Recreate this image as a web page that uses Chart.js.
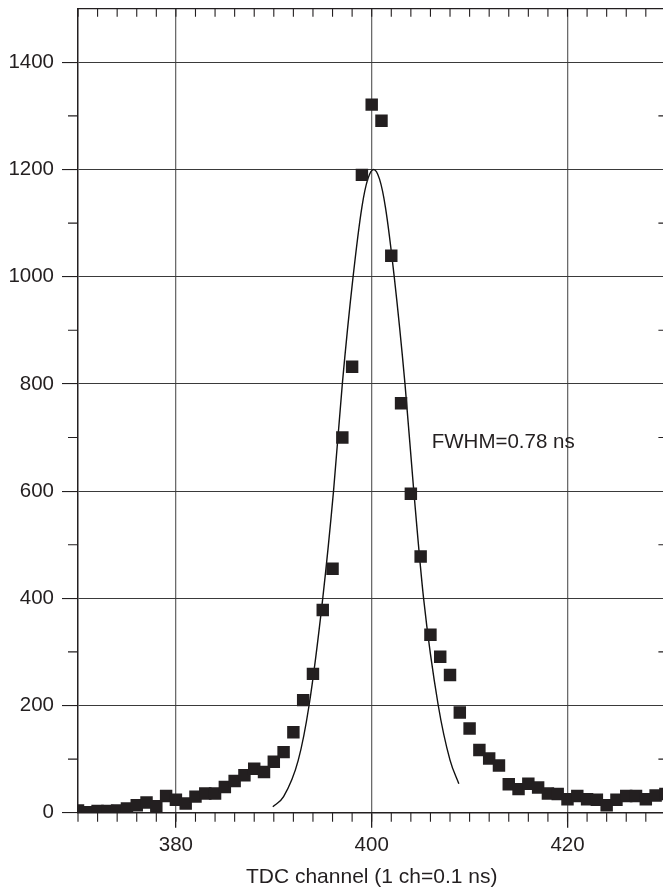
<!DOCTYPE html>
<html>
<head>
<meta charset="utf-8">
<script src="https://cdn.jsdelivr.net/npm/chart.js@4/dist/chart.umd.min.js"></script>
<style>
  html, body { margin: 0; padding: 0; background: #fff; overflow: hidden; }
  #wrap { width: 667px; height: 890px; }
</style>
</head>
<body>
<div id="wrap"><canvas id="c" width="667" height="890"></canvas></div>
<script>
// ---- data ----
const channels = [370,371,372,373,374,375,376,377,378,379,
                  380,381,382,383,384,385,386,387,388,389,
                  390,391,392,393,394,395,396,397,398,399,
                  400,401,402,403,404,405,406,407,408,409,
                  410,411,412,413,414,415,416,417,418,419,
                  420,421,422,423,424,425,426,427,428,429,430];
const counts   = [4,1,3,3,4,8,14,19,12,31,
                  24,17,30,36,36,48,59,70,82,76,
                  95,113,150,210,259,378,455,700,832,1190,
                  1321,1291,1039,764,595,478,332,291,257,187,
                  157,117,101,88,53,44,54,47,36,35,
                  25,31,25,24,14,24,31,31,25,32,35];
// fitted curve, points
const fitX = [389.9,391,392.5,393.6,395,396.1,397,398.1,399,399.6,400.2,400.8,401.4,402.3,403.4,404.3,405.3,406.8,408,408.9];
const fitY = [11,30,98,200,400,600,800,1000,1130,1182,1200,1182,1130,1000,800,600,400,200,98,54];
const xTicks = [380, 400, 420];
const yTicks = [0, 200, 400, 600, 800, 1000, 1200, 1400];
const xRange = [370, 430];
const yRange = [0, 1500];
const xTitle = 'TDC channel (1 ch=0.1 ns)';
const annotation = 'FWHM=0.78 ns';
const annotationAt = [406.13, 680];

const FONT = "'Liberation Sans', Arial, Helvetica, sans-serif";
const INK = '#231f20';

const framePlugin = {
  id: 'frame',
  afterDraw(chart) {
    const ctx = chart.ctx;
    const a = chart.chartArea;
    const xs = chart.scales.x, ys = chart.scales.y;
    ctx.save();
    ctx.strokeStyle = INK;
    ctx.lineWidth = 1.2;
    // top and right border
    ctx.beginPath();
    ctx.moveTo(a.left, a.top); ctx.lineTo(a.right, a.top);
    ctx.moveTo(a.right, a.top); ctx.lineTo(a.right, a.bottom);
    ctx.stroke();
    ctx.lineWidth = 1.1;
    ctx.beginPath();
    for (let v = xRange[0]; v <= xRange[1]; v += 2) {
      const px = xs.getPixelForValue(v);
      // top ticks (inward)
      ctx.moveTo(px, a.top); ctx.lineTo(px, a.top + 8);
      // bottom ticks (outward)
      ctx.moveTo(px, a.bottom); ctx.lineTo(px, a.bottom + 9);
    }
    for (let v = 100; v < yRange[1]; v += 200) {
      const py = ys.getPixelForValue(v);
      ctx.moveTo(a.left - 10, py); ctx.lineTo(a.left, py);
      ctx.moveTo(a.right - 7, py); ctx.lineTo(a.right, py);
    }
    ctx.stroke();
    // annotation
    ctx.fillStyle = INK;
    ctx.font = "20.5px " + FONT;
    ctx.textBaseline = 'alphabetic';
    ctx.textAlign = 'left';
    ctx.fillText(annotation, xs.getPixelForValue(annotationAt[0]), ys.getPixelForValue(annotationAt[1]));
    ctx.restore();
  }
};

new Chart(document.getElementById('c'), {
  type: 'scatter',
  data: {
    datasets: [
      {
        label: 'data',
        data: channels.map((c, i) => ({ x: c, y: counts[i] })),
        pointStyle: 'rect',
        pointRadius: 8.8,
        pointHoverRadius: 8.8,
        backgroundColor: INK,
        borderColor: INK,
        borderWidth: 0,
        showLine: false,
        clip: 0
      },
      {
        label: 'fit',
        data: fitX.map((x, i) => ({ x: x, y: fitY[i] })),
        showLine: true,
        pointRadius: 0,
        borderColor: '#111',
        borderWidth: 1.4,
        cubicInterpolationMode: 'monotone',
        fill: false,
        clip: 0
      }
    ]
  },
  options: {
    responsive: false,
    animation: false,
    devicePixelRatio: 1,
    layout: { autoPadding: false, padding: { top: 8.7, right: 1.6, left: 0, bottom: 0 } },
    plugins: { legend: { display: false }, tooltip: { enabled: false } },
    scales: {
      x: {
        type: 'linear',
        min: xRange[0], max: xRange[1],
        afterBuildTicks: (s) => { s.ticks = xTicks.map(v => ({ value: v })); },
        afterFit: (s) => { s.height = 77.3; s.paddingLeft = 0; s.paddingRight = 0; },
        grid: { color: '#6b6b6b', lineWidth: 1.3, tickLength: 15, tickColor: INK, drawTicks: true },
        border: { display: true, color: INK, width: 1.5 },
        ticks: { color: INK, font: { family: FONT, size: 20.5 }, padding: 5, maxRotation: 0, autoSkip: false,
                 callback: (v) => String(v) },
        title: { display: true, text: xTitle, color: INK, font: { family: FONT, size: 21 }, padding: { top: 0, bottom: 0 } }
      },
      y: {
        type: 'linear',
        min: yRange[0], max: yRange[1],
        afterBuildTicks: (s) => { s.ticks = yTicks.map(v => ({ value: v })); },
        afterFit: (s) => { s.width = 78; s.paddingTop = 0; s.paddingBottom = 0; },
        grid: { color: '#3a3a3a', lineWidth: 1.1, tickLength: 16, tickColor: INK },
        border: { display: true, color: INK, width: 1.5 },
        ticks: { color: INK, font: { family: FONT, size: 20.5 }, padding: 8, autoSkip: false,
                 callback: (v) => String(v) }
      }
    }
  },
  plugins: [framePlugin]
});
</script>
</body>
</html>
